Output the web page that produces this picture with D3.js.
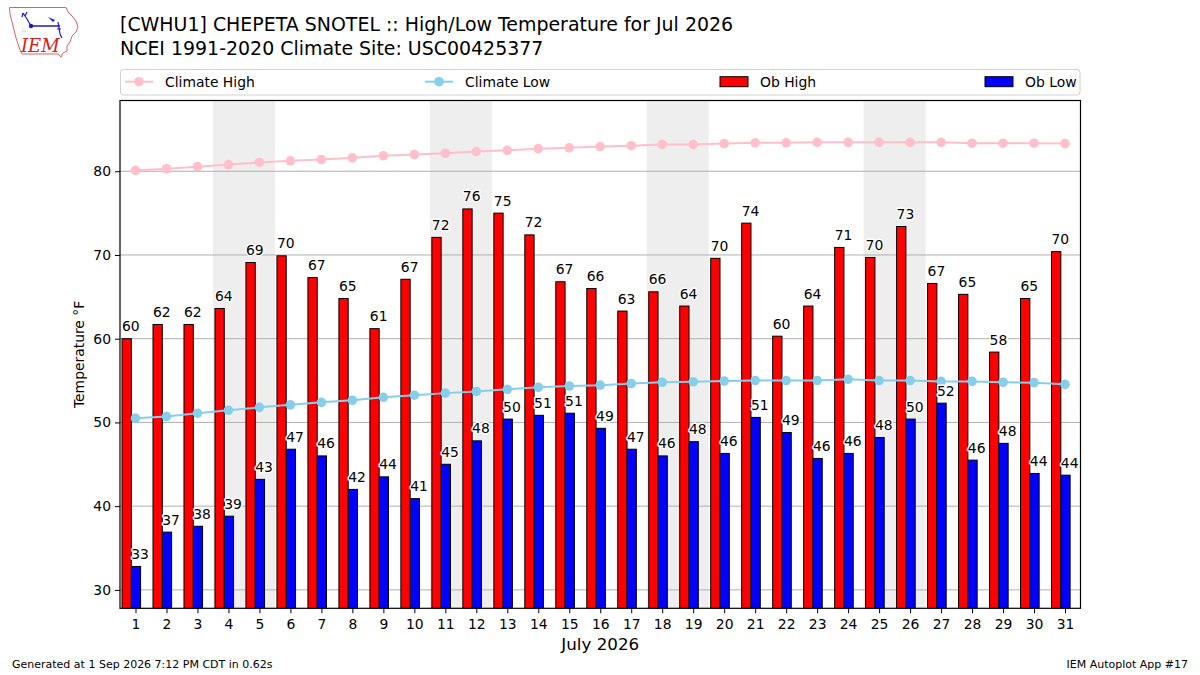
<!DOCTYPE html>
<html>
<head>
<meta charset="utf-8">
<script src="https://cdn.jsdelivr.net/npm/d3@7"></script>
<style>
  html, body { margin: 0; padding: 0; background: #fff; }
  svg { display: block; font-family: "DejaVu Sans", sans-serif; }
</style>
</head>
<body>
<svg id="chart" width="1200" height="675"></svg>
<script>
// ---------------- Data ----------------
const days = d3.range(1, 32);
const obHigh = [60.0, 61.7, 61.7, 63.6, 69.1, 69.9, 67.3, 64.8, 61.2, 67.1,
                72.1, 75.5, 75.0, 72.4, 66.8, 66.0, 63.3, 65.6, 63.9, 69.6,
                73.8, 60.3, 63.9, 70.9, 69.7, 73.4, 66.6, 65.3, 58.4, 64.8, 70.4];
const obLow = [32.8, 36.9, 37.6, 38.8, 43.2, 46.8, 46.0, 42.0, 43.5, 40.9,
               45.0, 47.8, 50.4, 50.85, 51.1, 49.3, 46.8, 46.0, 47.7, 46.3,
               50.6, 48.8, 45.7, 46.3, 48.2, 50.4, 52.3, 45.5, 47.5, 43.9, 43.7];
const climHigh = [80.1, 80.3, 80.55, 80.8, 81.05, 81.25, 81.4, 81.6, 81.85, 82.0,
                  82.15, 82.35, 82.5, 82.7, 82.8, 82.95, 83.05, 83.2, 83.2, 83.3,
                  83.4, 83.4, 83.45, 83.45, 83.45, 83.45, 83.45, 83.35, 83.35, 83.35, 83.3];
const climLow = [50.5, 50.7, 51.1, 51.45, 51.8, 52.1, 52.4, 52.65, 53.0, 53.25,
                 53.5, 53.7, 53.95, 54.2, 54.35, 54.45, 54.65, 54.8, 54.85, 54.95,
                 55.0, 55.0, 55.0, 55.15, 55.0, 55.0, 54.9, 54.9, 54.8, 54.75, 54.55];
const weekendStarts = [4, 11, 18, 25];   // Saturdays (Sat+Sun shaded)
const yTicks = [30, 40, 50, 60, 70, 80];
const titleLines = ["[CWHU1] CHEPETA SNOTEL :: High/Low Temperature for Jul 2026",
                    "NCEI 1991-2020 Climate Site: USC00425377"];
const xLabel = "July 2026";
const yLabel = "Temperature °F";
const footerLeft = "Generated at 1 Sep 2026 7:12 PM CDT in 0.62s";
const footerRight = "IEM Autoplot App #17";
const legendItems = [
  {label: "Climate High", type: "line", color: "#ffc0cb"},
  {label: "Climate Low", type: "line", color: "#87ceeb"},
  {label: "Ob High", type: "patch", color: "#ff0000"},
  {label: "Ob Low", type: "patch", color: "#0000ff"}
];

// ---------------- Layout ----------------
const svg = d3.select("#chart");
const plot = {left: 120, right: 1080.5, top: 100.5, bottom: 608.3};
const fontFam = "'DejaVu Sans', sans-serif";

const x = d3.scaleLinear().domain([0.5, 31.5]).range([plot.left, plot.right]);
const y = d3.scaleLinear()
  .domain([d3.min(obLow) - 5, d3.max(climHigh) + 5])
  .range([plot.bottom, plot.top]);

const g = svg.append("g");

// Weekend shading
g.selectAll("rect.wk").data(weekendStarts).join("rect")
  .attr("class", "wk")
  .attr("x", d => x(d - 0.5))
  .attr("width", d => x(d + 1.5) - x(d - 0.5))
  .attr("y", plot.top)
  .attr("height", plot.bottom - plot.top)
  .attr("fill", "#eeeeee");

// Grid lines
g.selectAll("line.grid").data(yTicks).join("line")
  .attr("x1", plot.left).attr("x2", plot.right)
  .attr("y1", d => y(d)).attr("y2", d => y(d))
  .attr("stroke", "#b0b0b0").attr("stroke-width", 1);

// Bars
const barW = x(0.3) - x(0);
g.selectAll("rect.hi").data(days).join("rect")
  .attr("x", d => x(d - 0.435))
  .attr("width", barW)
  .attr("y", (d, i) => y(obHigh[i]))
  .attr("height", (d, i) => plot.bottom - y(obHigh[i]) + 2)
  .attr("fill", "#ff0000").attr("stroke", "#000").attr("stroke-width", 1);
g.selectAll("rect.lo").data(days).join("rect")
  .attr("x", d => x(d - 0.135))
  .attr("width", barW)
  .attr("y", (d, i) => y(obLow[i]))
  .attr("height", (d, i) => plot.bottom - y(obLow[i]) + 2)
  .attr("fill", "#0000ff").attr("stroke", "#000").attr("stroke-width", 1);

// Clip to plot area
svg.append("defs").append("clipPath").attr("id", "clip")
  .append("rect").attr("x", plot.left).attr("y", plot.top)
  .attr("width", plot.right - plot.left).attr("height", plot.bottom - plot.top);
g.attr("clip-path", "url(#clip)");

// Climate lines
function climLine(vals, color) {
  const line = d3.line().x((d, i) => x(days[i])).y(d => y(d));
  g.append("path").datum(vals).attr("d", line)
    .attr("fill", "none").attr("stroke", color).attr("stroke-width", 2);
  g.selectAll(null).data(vals).join("circle")
    .attr("cx", (d, i) => x(days[i])).attr("cy", d => y(d))
    .attr("r", 4.8).attr("fill", color);
}
climLine(climHigh, "#ffc0cb");
climLine(climLow, "#87ceeb");

// Bar value labels
const labG = svg.append("g")
  .attr("font-family", fontFam).attr("font-size", 13.9)
  .attr("text-anchor", "middle").attr("fill", "#000");
function addLabels(vals, off) {
  labG.selectAll(null).data(vals).join("text")
    .attr("x", (d, i) => x(days[i] + off))
    .attr("y", d => y(d) - 7.5)
    .attr("stroke", "#fff").attr("stroke-width", 3)
    .attr("paint-order", "stroke").attr("stroke-linejoin", "round")
    .text(d => Math.round(d));
}
addLabels(obHigh, -0.15);
addLabels(obLow, 0.15);

// Axes
const yAxis = d3.axisLeft(y).tickValues(yTicks).tickSize(5).tickPadding(4);
const yg = svg.append("g").attr("transform", `translate(${plot.left},0)`).call(yAxis);
const xAxis = d3.axisBottom(x).tickValues(days).tickSize(5).tickPadding(4).tickFormat(d3.format("d"));
const xg = svg.append("g").attr("transform", `translate(0,${plot.bottom})`).call(xAxis);
[yg, xg].forEach(a => {
  a.select(".domain").remove();
  a.selectAll("text").attr("font-family", fontFam).attr("font-size", 13.9).attr("fill", "#000");
  a.selectAll("line").attr("stroke", "#000").attr("stroke-width", 1);
});
xg.selectAll("text").attr("dy", "0.85em");

// Plot frame
svg.append("rect").attr("x", plot.left).attr("y", plot.top)
  .attr("width", plot.right - plot.left).attr("height", plot.bottom - plot.top)
  .attr("fill", "none").attr("stroke", "#000").attr("stroke-width", 1.2);

// Axis labels
svg.append("text").attr("x", (plot.left + plot.right) / 2).attr("y", 650)
  .attr("text-anchor", "middle").attr("font-family", fontFam).attr("font-size", 16.7)
  .text(xLabel);
svg.append("text")
  .attr("transform", `translate(84,${(plot.top + plot.bottom) / 2}) rotate(-90)`)
  .attr("text-anchor", "middle").attr("font-family", fontFam).attr("font-size", 13.9)
  .text(yLabel);

// Title
svg.selectAll("text.title").data(titleLines).join("text")
  .attr("class", "title")
  .attr("x", 120).attr("y", (d, i) => 31 + i * 24)
  .attr("font-family", fontFam).attr("font-size", 18.95).attr("fill", "#000")
  .text(d => d);

// Legend
const leg = svg.append("g");
leg.append("rect").attr("x", 120.5).attr("y", 69.5).attr("width", 959.5).attr("height", 25.5)
  .attr("rx", 3).attr("fill", "#fff").attr("stroke", "#d0d0d0").attr("stroke-width", 1);
const legX = [125, 425, 720, 985];
legendItems.forEach((it, i) => {
  const lx = legX[i], ly = 81.7;
  if (it.type === "line") {
    leg.append("line").attr("x1", lx).attr("x2", lx + 28).attr("y1", ly).attr("y2", ly)
      .attr("stroke", it.color).attr("stroke-width", 2);
    leg.append("circle").attr("cx", lx + 14).attr("cy", ly).attr("r", 4.8).attr("fill", it.color);
  } else {
    leg.append("rect").attr("x", lx).attr("y", ly - 5).attr("width", 28).attr("height", 10)
      .attr("fill", it.color).attr("stroke", "#000").attr("stroke-width", 1);
  }
  leg.append("text").attr("x", lx + 40).attr("y", 86.5)
    .attr("font-family", fontFam).attr("font-size", 13.9).text(it.label);
});

// Footer
svg.append("text").attr("x", 12).attr("y", 668)
  .attr("font-family", fontFam).attr("font-size", 11).text(footerLeft);
svg.append("text").attr("x", 1188).attr("y", 668).attr("text-anchor", "end")
  .attr("font-family", fontFam).attr("font-size", 11).text(footerRight);

// IEM logo (decorative)
const logo = svg.append("g");
logo.append("path")
  .attr("d", "M9.5,7.5 L66,7.5 L68,12 L72,16 L76,21 L78,27 L76,32 L72,36 L70,42 L67,46 L67,51 L63,53 L61,57 L58,54 L22,54 L20,50 L18,44 L16,38 L14,30 L12,22 L10,14 Z")
  .attr("fill", "none").attr("stroke", "#e06060").attr("stroke-width", 1);
logo.append("text").attr("x", 21).attr("y", 52)
  .attr("font-family", "'DejaVu Serif', 'Liberation Serif', serif").attr("font-style", "italic")
  .attr("font-size", 18).attr("fill", "#d42020").text("IEM");
const blue = "#1a1acc";
logo.append("line").attr("x1", 31).attr("y1", 26).attr("x2", 60).attr("y2", 26).attr("stroke", blue).attr("stroke-width", 1.5);
logo.append("circle").attr("cx", 31).attr("cy", 26).attr("r", 2.2).attr("fill", blue);
logo.append("path").attr("d", "M23,13 L27,19 L31,26 M23,13 L22,17 M27,12 L25,16").attr("fill", "none").attr("stroke", blue).attr("stroke-width", 1.2);
logo.append("path").attr("d", "M48,17 L55,20 L53,22 Z").attr("fill", blue);
logo.append("path").attr("d", "M58,22 L60,34 L62,38 M57,29 L61,29").attr("fill", "none").attr("stroke", blue).attr("stroke-width", 1.2);
logo.append("text").attr("x", 22).attr("y", 32).attr("font-size", 6).attr("fill", blue).text("∴");
</script>
</body>
</html>
